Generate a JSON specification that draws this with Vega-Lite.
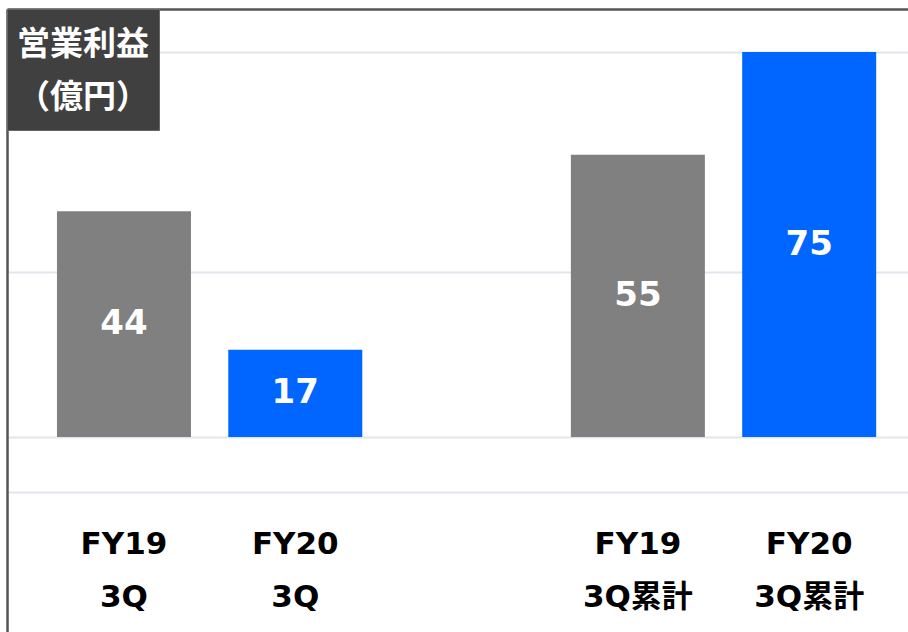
{
  "$schema": "https://vega.github.io/schema/vega-lite/v6.json",
  "width": 901,
  "height": 623,
  "autosize": "none",
  "padding": {"left": 7, "top": 9, "right": 0, "bottom": 0},
  "background": "white",
  "config": {"view": {"stroke": null}, "font": "DejaVu Sans"},
  "data": {
    "values": [
      {"period": "FY19 3Q", "year": "FY19", "value": 44},
      {"period": "FY20 3Q", "year": "FY20", "value": 17},
      {"period": "FY19 3Q累計", "year": "FY19", "value": 55},
      {"period": "FY20 3Q累計", "year": "FY20", "value": 75}
    ]
  },
  "layer": [
    {
      "mark": {"type": "bar"},
      "encoding": {
        "x": {
          "field": "period",
          "type": "nominal",
          "scale": {
            "domain": ["FY19 3Q", "FY20 3Q", "-", "FY19 3Q累計", "FY20 3Q累計"],
            "paddingInner": 0.2177,
            "paddingOuter": 0.2387,
            "align": 0.611
          },
          "axis": {
            "orient": "bottom",
            "offset": -103,
            "domain": false,
            "ticks": false,
            "tickSize": 0,
            "labelPadding": 0,
            "labelAngle": 0,
            "labelOverlap": false,
            "labelFont": "DejaVu Sans, Noto Sans CJK JP",
            "labelFontSize": 31,
            "labelFontWeight": "bold",
            "labelColor": "#000000",
            "labelLineHeight": 53,
            "labelBaseline": "top",
            "labelExpr": "datum.value == '-' ? '' : split(datum.value, ' ')",
            "title": null,
            "grid": false
          }
        },
        "y": {
          "field": "value",
          "type": "quantitative",
          "scale": {"domain": [-38, 83.4], "nice": false, "zero": false},
          "axis": {
            "orient": "left",
            "values": [75, 32.1, 0, -10.7],
            "grid": true,
            "gridColor": "#e1e6ee",
            "gridWidth": 2,
            "domain": true,
            "domainColor": "#555555",
            "domainWidth": 2.5,
            "ticks": false,
            "labels": false,
            "title": null
          }
        },
        "color": {
          "field": "year",
          "type": "nominal",
          "scale": {"domain": ["FY19", "FY20"], "range": ["#808080", "#0066ff"]},
          "legend": {
            "title": ["", "営業利益"],
            "titleLineHeight": 10,
            "orient": "top-left",
            "offset": 0,
            "values": ["FY19"],
            "labelExpr": "'（億円）'",
            "fillColor": "#404040",
            "strokeColor": "#666666",
            "padding": 10,
            "titleFont": "Noto Sans CJK JP",
            "titleFontSize": 33,
            "titleFontWeight": "bold",
            "titleColor": "#ffffff",
            "titlePadding": 13,
            "labelFont": "Noto Sans CJK JP",
            "labelFontSize": 33,
            "labelFontWeight": "bold",
            "labelColor": "#ffffff",
            "symbolSize": 2025,
            "symbolOpacity": 0,
            "symbolStrokeWidth": 0,
            "labelOffset": -45,
            "cornerRadius": 0
          }
        }
      }
    },
    {
      "mark": {"type": "text", "color": "#ffffff", "fontSize": 34, "fontWeight": "bold", "font": "DejaVu Sans", "baseline": "middle", "align": "center"},
      "encoding": {
        "x": {
          "field": "period",
          "type": "nominal",
          "axis": {
            "orient": "top",
            "domain": true,
            "domainColor": "#555555",
            "domainWidth": 2.5,
            "ticks": false,
            "labels": false,
            "title": null,
            "grid": false
          }
        },
        "y": {
          "field": "value",
          "type": "quantitative",
          "scale": {"domain": [-76, 166.8], "nice": false, "zero": false},
          "axis": null
        },
        "text": {"field": "value", "type": "quantitative"}
      }
    }
  ],
  "resolve": {"scale": {"y": "independent"}, "axis": {"x": "independent"}}
}
